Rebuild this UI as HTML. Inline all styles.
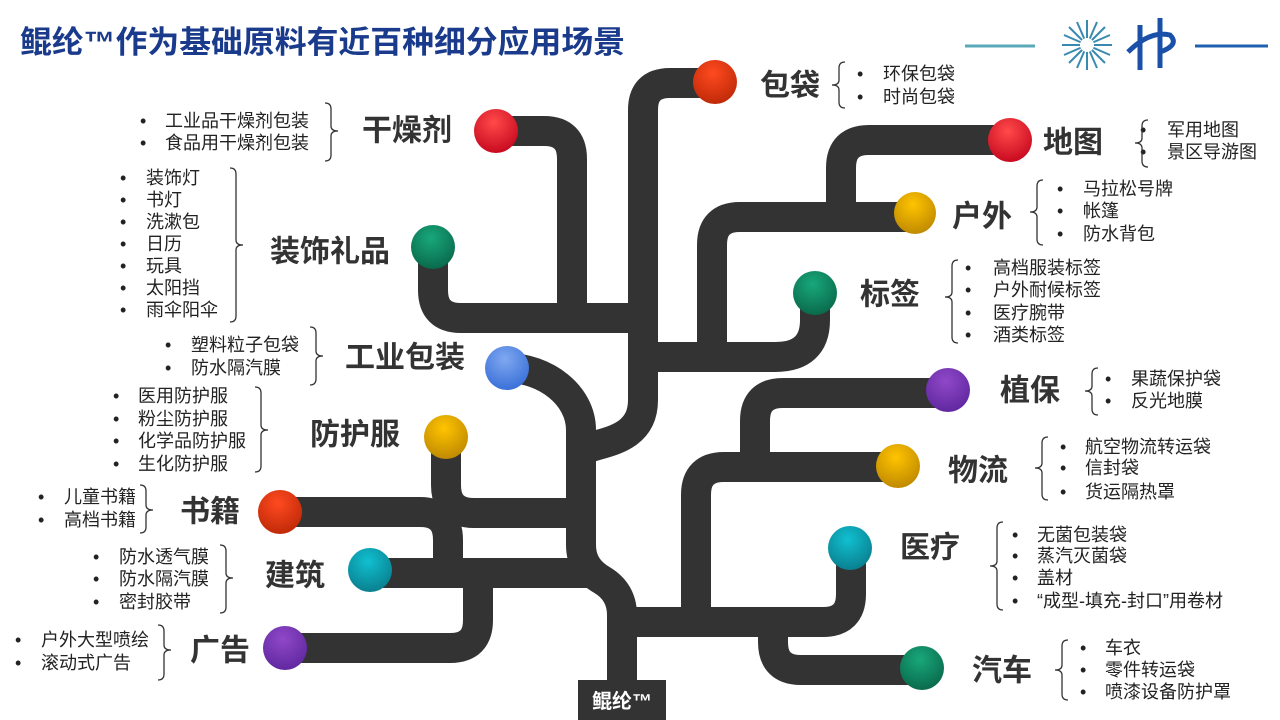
<!DOCTYPE html>
<html><head><meta charset="utf-8"><style>
body{margin:0;width:1280px;height:720px;overflow:hidden;background:#fff}
svg{display:block}
.t{font-family:"Liberation Sans","Noto Sans CJK SC",sans-serif;}
.lab{font-size:30px;font-weight:bold;fill:#333}
.li{font-size:18px;fill:#222}
.br{fill:none;stroke:#333;stroke-width:1.3}
.tr{fill:none;stroke:#333;stroke-width:30}
</style></head><body>
<svg width="1280" height="720" viewBox="0 0 1280 720" class="t">
<defs>
<radialGradient id="gr" cx="45%" cy="30%" r="70%"><stop offset="0" stop-color="#ff4a4a"/><stop offset="1" stop-color="#c80a20"/></radialGradient>
<radialGradient id="go" cx="45%" cy="30%" r="70%"><stop offset="0" stop-color="#ff4a20"/><stop offset="1" stop-color="#c02a08"/></radialGradient>
<radialGradient id="gy" cx="45%" cy="30%" r="70%"><stop offset="0" stop-color="#ffc400"/><stop offset="1" stop-color="#c08a00"/></radialGradient>
<radialGradient id="gg" cx="45%" cy="30%" r="70%"><stop offset="0" stop-color="#18a87a"/><stop offset="1" stop-color="#0a6a4c"/></radialGradient>
<radialGradient id="gb" cx="45%" cy="30%" r="70%"><stop offset="0" stop-color="#80a8f0"/><stop offset="1" stop-color="#3a70d8"/></radialGradient>
<radialGradient id="gp" cx="45%" cy="30%" r="70%"><stop offset="0" stop-color="#9048c8"/><stop offset="1" stop-color="#6028a0"/></radialGradient>
<radialGradient id="gt" cx="45%" cy="30%" r="70%"><stop offset="0" stop-color="#10c0d0"/><stop offset="1" stop-color="#0a8090"/></radialGradient>
</defs>
<text x="20" y="53" font-size="31" font-weight="bold" fill="#1a3a8c" textLength="605" lengthAdjust="spacingAndGlyphs">鲲纶™作为基础原料有近百种细分应用场景</text>
<line x1="965" y1="46" x2="1035" y2="46" stroke="#5aa8b8" stroke-width="3"/>
<line x1="1195" y1="46" x2="1268" y2="46" stroke="#2060b0" stroke-width="3"/>
<g stroke="#3a8ab0" stroke-width="2">
<line x1="1062" y1="45" x2="1112" y2="45"/><line x1="1087" y1="20" x2="1087" y2="70"/>
<line x1="1069" y1="27" x2="1105" y2="63"/><line x1="1105" y1="27" x2="1069" y2="63"/>
<line x1="1064" y1="35" x2="1110" y2="55"/><line x1="1064" y1="55" x2="1110" y2="35"/>
<line x1="1077" y1="22" x2="1097" y2="68"/><line x1="1097" y1="22" x2="1077" y2="68"/>
</g>
<circle cx="1087" cy="45" r="7" fill="#fff"/>
<path d="M1140,70 V25 M1160,68 V18 M1128,52 Q1150,30 1170,35 Q1180,45 1160,52" fill="none" stroke="#1a50a8" stroke-width="5"/>

<g class="tr" stroke-linecap="butt">
<path d="M622,700 V615 Q622,592 602,580 Q581,568 581,545 V430 C581,395 545,368 507,368"/>
<path d="M581,455 C581,440 643,450 643,400 V110 Q643,83 670,83 H715"/>
<path d="M496,131 H544 Q572,131 572,159 V318"/>
<path d="M433,247 V290 Q433,318 461,318 H643"/>
<path d="M446,437 V485 Q446,513 474,513 H581"/>
<path d="M370,573 H590"/>
<path d="M280,512 H420 Q448,512 448,540 V573"/>
<path d="M285,648 H450 Q478,648 478,620 V573"/>
<path d="M622,622 H823 Q851,622 851,594 V548"/>
<path d="M696,622 V495 Q696,467 724,467 H898"/>
<path d="M755,467 V421 Q755,393 783,393 H948"/>
<path d="M773,622 V642 Q773,670 801,670 H922"/>
<path d="M643,357 H775 Q815,357 815,320 V293"/>
<path d="M712,357 V245 Q712,217 740,217 H915"/>
<path d="M841,217 V168 Q841,140 869,140 H1010"/>
</g>
<g>
<circle cx="715" cy="82" r="22" fill="url(#go)"/>
<circle cx="496" cy="131" r="22" fill="url(#gr)"/>
<circle cx="1010" cy="140" r="22" fill="url(#gr)"/>
<circle cx="915" cy="213" r="21" fill="url(#gy)"/>
<circle cx="433" cy="247" r="22" fill="url(#gg)"/>
<circle cx="815" cy="293" r="22" fill="url(#gg)"/>
<circle cx="507" cy="368" r="22" fill="url(#gb)"/>
<circle cx="948" cy="390" r="22" fill="url(#gp)"/>
<circle cx="446" cy="437" r="22" fill="url(#gy)"/>
<circle cx="898" cy="466" r="22" fill="url(#gy)"/>
<circle cx="280" cy="512" r="22" fill="url(#go)"/>
<circle cx="850" cy="548" r="22" fill="url(#gt)"/>
<circle cx="370" cy="570" r="22" fill="url(#gt)"/>
<circle cx="285" cy="648" r="22" fill="url(#gp)"/>
<circle cx="922" cy="668" r="22" fill="url(#gg)"/>
</g>
<rect x="578" y="680" width="88" height="40" fill="#333"/>
<text x="622" y="708" text-anchor="middle" font-size="20" font-weight="bold" fill="#fff">鲲纶™</text>

<g class="lab" dominant-baseline="central">
<text x="760" y="86">包袋</text>
<text x="362" y="131">干燥剂</text>
<text x="1043" y="143">地图</text>
<text x="952" y="217">户外</text>
<text x="270" y="252">装饰礼品</text>
<text x="860" y="295">标签</text>
<text x="345" y="358">工业包装</text>
<text x="1000" y="391">植保</text>
<text x="310" y="435">防护服</text>
<text x="948" y="471">物流</text>
<text x="180" y="512">书籍</text>
<text x="900" y="548">医疗</text>
<text x="265" y="576">建筑</text>
<text x="972" y="671">汽车</text>
<text x="190" y="651">广告</text>
</g>

<g class="li" dominant-baseline="central">
<text x="140" y="121">•</text><text x="165" y="121">工业品干燥剂包装</text>
<text x="140" y="143">•</text><text x="165" y="143">食品用干燥剂包装</text>
<text x="120" y="178">•</text><text x="146" y="178">装饰灯</text>
<text x="120" y="200">•</text><text x="146" y="200">书灯</text>
<text x="120" y="222">•</text><text x="146" y="222">洗漱包</text>
<text x="120" y="244">•</text><text x="146" y="244">日历</text>
<text x="120" y="266">•</text><text x="146" y="266">玩具</text>
<text x="120" y="288">•</text><text x="146" y="288">太阳挡</text>
<text x="120" y="310">•</text><text x="146" y="310">雨伞阳伞</text>
<text x="165" y="345">•</text><text x="191" y="345">塑料粒子包袋</text>
<text x="165" y="368">•</text><text x="191" y="368">防水隔汽膜</text>
<text x="113" y="396">•</text><text x="138" y="396">医用防护服</text>
<text x="113" y="419">•</text><text x="138" y="419">粉尘防护服</text>
<text x="113" y="441">•</text><text x="138" y="441">化学品防护服</text>
<text x="113" y="464">•</text><text x="138" y="464">生化防护服</text>
<text x="38" y="497">•</text><text x="64" y="497">儿童书籍</text>
<text x="38" y="520">•</text><text x="64" y="520">高档书籍</text>
<text x="93" y="557">•</text><text x="119" y="557">防水透气膜</text>
<text x="93" y="579">•</text><text x="119" y="579">防水隔汽膜</text>
<text x="93" y="602">•</text><text x="119" y="602">密封胶带</text>
<text x="15" y="640">•</text><text x="41" y="640">户外大型喷绘</text>
<text x="15" y="663">•</text><text x="41" y="663">滚动式广告</text>

<text x="857" y="74">•</text><text x="883" y="74">环保包袋</text>
<text x="857" y="97">•</text><text x="883" y="97">时尚包袋</text>
<text x="1140" y="130">•</text><text x="1167" y="130">军用地图</text>
<text x="1140" y="152">•</text><text x="1167" y="152">景区导游图</text>
<text x="1057" y="189">•</text><text x="1083" y="189">马拉松号牌</text>
<text x="1057" y="211">•</text><text x="1083" y="211">帐篷</text>
<text x="1057" y="234">•</text><text x="1083" y="234">防水背包</text>
<text x="965" y="268">•</text><text x="993" y="268">高档服装标签</text>
<text x="965" y="290">•</text><text x="993" y="290">户外耐候标签</text>
<text x="965" y="313">•</text><text x="993" y="313">医疗腕带</text>
<text x="965" y="335">•</text><text x="993" y="335">酒类标签</text>
<text x="1105" y="379">•</text><text x="1131" y="379">果蔬保护袋</text>
<text x="1105" y="401">•</text><text x="1131" y="401">反光地膜</text>
<text x="1060" y="447">•</text><text x="1085" y="447">航空物流转运袋</text>
<text x="1060" y="468">•</text><text x="1085" y="468">信封袋</text>
<text x="1060" y="492">•</text><text x="1085" y="492">货运隔热罩</text>
<text x="1012" y="535">•</text><text x="1037" y="535">无菌包装袋</text>
<text x="1012" y="556">•</text><text x="1037" y="556">蒸汽灭菌袋</text>
<text x="1012" y="578">•</text><text x="1037" y="578">盖材</text>
<text x="1012" y="601">•</text><text x="1037" y="601">“成型-填充-封口”用卷材</text>
<text x="1080" y="648">•</text><text x="1105" y="648">车衣</text>
<text x="1080" y="670">•</text><text x="1105" y="670">零件转运袋</text>
<text x="1080" y="692">•</text><text x="1105" y="692">喷漆设备防护罩</text>
</g>

<g class="br">
<path d="M325,103 Q331,103 331,109 V126 Q331,131 338,131 Q331,131 331,136 V155 Q331,161 325,161"/>
<path d="M230,168 Q236,168 236,174 V240 Q236,245 243,245 Q236,245 236,250 V316 Q236,322 230,322"/>
<path d="M310,327 Q316,327 316,333 V351 Q316,356 323,356 Q316,356 316,361 V379 Q316,385 310,385"/>
<path d="M255,387 Q261,387 261,393 V425 Q261,430 268,430 Q261,430 261,435 V466 Q261,472 255,472"/>
<path d="M140,485 Q146,485 146,491 V505 Q146,510 153,510 Q146,510 146,515 V527 Q146,533 140,533"/>
<path d="M220,545 Q226,545 226,551 V573 Q226,578 233,578 Q226,578 226,583 V607 Q226,613 220,613"/>
<path d="M158,625 Q164,625 164,631 V645 Q164,650 171,650 Q164,650 164,655 V674 Q164,680 158,680"/>
<path d="M845,62 Q839,62 839,68 V80 Q839,85 832,85 Q839,85 839,90 V102 Q839,108 845,108"/>
<path d="M1148,120 Q1142,120 1142,126 V138 Q1142,143 1135,143 Q1142,143 1142,148 V161 Q1142,167 1148,167"/>
<path d="M1043,180 Q1037,180 1037,186 V207 Q1037,212 1030,212 Q1037,212 1037,217 V239 Q1037,245 1043,245"/>
<path d="M958,260 Q952,260 952,266 V292 Q952,297 945,297 Q952,297 952,302 V337 Q952,343 958,343"/>
<path d="M1098,368 Q1092,368 1092,374 V386 Q1092,391 1085,391 Q1092,391 1092,396 V409 Q1092,415 1098,415"/>
<path d="M1048,437 Q1042,437 1042,443 V463 Q1042,468 1035,468 Q1042,468 1042,473 V494 Q1042,500 1048,500"/>
<path d="M1003,522 Q997,522 997,528 V561 Q997,566 990,566 Q997,566 997,571 V604 Q997,610 1003,610"/>
<path d="M1068,640 Q1062,640 1062,646 V665 Q1062,670 1055,670 Q1062,670 1062,675 V694 Q1062,700 1068,700"/>
</g>
</svg>
</body></html>
